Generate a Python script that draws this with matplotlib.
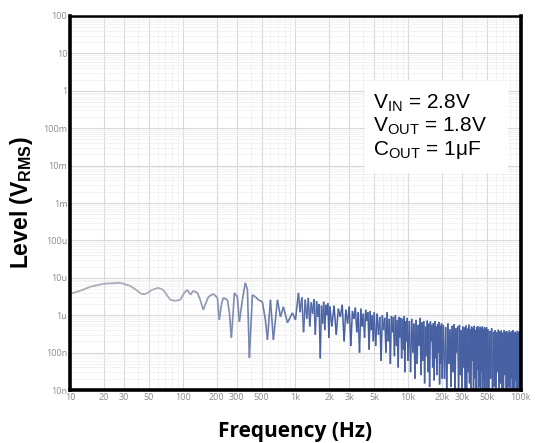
"""Output noise spectrum, VIN=2.8V VOUT=1.8V COUT=1uF"""
import numpy as np
import matplotlib
matplotlib.use('Agg')
import matplotlib.pyplot as plt
from matplotlib.collections import LineCollection
from matplotlib.colors import to_rgb
from matplotlib.patches import Rectangle

plt.rcParams['mathtext.fontset'] = 'custom'
plt.rcParams['mathtext.rm'] = 'Liberation Sans'
plt.rcParams['mathtext.bf'] = 'Liberation Sans:bold'

# low frequency part, Hz / uV
lf_freq = [10, 12.3, 15.1, 19.7, 27.8, 34.1, 38.6, 42.8, 47.4, 53.6,
           60.6, 67.1, 77.4, 85.8, 95, 103, 110, 117, 124, 135,
           143, 152, 162, 169, 187, 203, 211, 220, 229, 249,
           259, 270, 281, 287, 305, 318, 338, 359, 375, 390,
           415, 441, 469, 509, 541, 564, 600, 637, 692, 736,
           782, 849, 940, 1000, 1063]
lf_level = [3.73, 4.49, 5.74, 6.92, 7.35, 6.11, 4.78, 3.73, 3.73, 4.78,
            5.41, 4.78, 2.58, 2.43, 2.58, 3.97, 4.78, 3.51, 4.49, 3.97,
            2.58, 1.39, 2.28, 3.10, 3.73, 2.92, 0.75, 1.90, 2.92, 2.58,
            1.23, 0.25, 1.39, 3.97, 3.10, 0.67, 2.58, 7.35, 4.78, 0.073,
            3.51, 3.10, 2.58, 2.28, 0.75, 0.22, 2.58, 0.22, 2.58, 0.91,
            1.68, 0.63, 1.16, 0.75, 3.97]

# high frequency part, kHz / uV
hf_khz = [1.10, 1.14, 1.18, 1.22, 1.26, 1.30, 1.34, 1.38, 1.42, 1.46, 1.50, 1.54,
          1.58, 1.62, 1.66, 1.70, 1.74, 1.78, 1.82, 1.86, 1.90, 1.94, 1.98, 2.02,
          2.1, 2.2, 2.3, 2.4, 2.5, 2.6, 2.7, 2.8, 2.9, 3.0, 3.1, 3.2, 3.3, 3.4, 3.5,
          3.6, 3.7, 3.8, 3.9, 4.0, 4.1, 4.2, 4.3, 4.4, 4.5, 4.6, 4.7, 4.8, 4.9, 5.0,
          5.15, 5.3, 5.45, 5.6, 5.75, 5.9, 6.05, 6.2, 6.35, 6.5, 6.65, 6.8, 6.95,
          7.1, 7.25, 7.4, 7.55, 7.7, 7.85, 8.0, 8.15, 8.3, 8.45, 8.6, 8.75, 8.9,
          9.05, 9.2, 9.35, 9.5, 9.65, 9.8, 9.95,
          10.25, 10.5, 10.75, 11.0, 11.25, 11.5, 11.75, 12.0, 12.25, 12.5, 12.75,
          13.0, 13.25, 13.5, 13.75, 14.0, 14.25, 14.5, 14.75, 15.0, 15.25, 15.5,
          15.75, 16.0, 16.25, 16.5, 16.75, 17.0, 17.25, 17.5, 17.75, 18.0, 18.25,
          18.5, 18.75, 19.0, 19.25, 19.5, 19.75, 20.0,
          20.5, 21, 21.5, 22, 22.5, 23, 23.5, 24, 24.5, 25, 25.5, 26, 26.5, 27,
          27.5, 28, 28.5, 29, 29.5, 30, 30.5, 31, 31.5, 32, 32.5, 33, 33.5, 34,
          34.5, 35, 35.5, 36, 36.5, 37, 37.5, 38, 38.5, 39, 39.5, 40, 40.5, 41,
          41.5, 42, 42.5, 43, 43.5, 44, 44.5, 45, 45.5, 46, 46.5, 47, 47.5, 48,
          48.5, 49, 49.5, 50,
          51, 52, 53, 54, 55, 56, 57, 58, 59, 60, 61, 62, 63, 64, 65, 66, 67, 68,
          69, 70, 71, 72, 73, 74, 75, 76, 77, 78, 79, 80, 81, 82, 83, 84, 85, 86,
          87, 88, 89, 90, 91, 92, 93, 94, 95, 96, 97, 98, 99, 100]
hf_level = [1.2, 3.0, 0.35, 2.6, 0.8, 2.9, 0.5, 2.2, 1.1, 2.7, 0.3, 2.4,
            0.9, 2.0, 0.07, 1.8, 0.6, 2.3, 0.4, 1.9, 1.0, 2.1, 0.25, 1.7,
            0.5, 1.8, 0.3, 1.5, 0.9, 1.9, 0.2, 1.4, 0.6, 1.7, 0.15, 1.3, 0.8, 1.6, 0.35,
            1.2, 0.1, 1.5, 0.5, 1.1, 0.25, 1.4, 0.7, 1.2, 0.12, 1.3, 0.4, 1.0, 0.2, 1.2,
            0.15, 1.1, 0.3, 0.9, 0.06, 1.0, 0.4, 0.85, 0.1, 1.2, 0.2, 0.8, 0.05,
            0.95, 0.35, 0.9, 0.08, 1.0, 0.15, 0.75, 0.04, 0.9, 0.25, 0.85, 0.07, 0.8,
            0.12, 0.95, 0.03, 0.7, 0.2, 0.85, 0.06,
            0.7, 0.03, 0.8, 0.1, 0.6, 0.02, 0.75, 0.05, 0.55, 0.15, 0.85,
            0.025, 0.65, 0.06, 0.7, 0.015, 0.5, 0.08, 0.72, 0.03, 0.6, 0.012,
            0.68, 0.2, 0.55, 0.04, 0.62, 0.018, 0.7, 0.07, 0.5, 0.025, 0.58,
            0.1, 0.66, 0.014, 0.52, 0.05, 0.6, 0.02,
            0.55, 0.02, 0.48, 0.008, 0.6, 0.05, 0.42, 0.012, 0.52, 0.03, 0.58, 0.006, 0.45, 0.1,
            0.5, 0.009, 0.55, 0.025, 0.4, 0.007, 0.5, 0.04, 0.47, 0.011, 0.53, 0.006, 0.44, 0.03,
            0.56, 0.015, 0.42, 0.008, 0.5, 0.06, 0.46, 0.005, 0.52, 0.02, 0.4, 0.009, 0.48, 0.035,
            0.51, 0.007, 0.43, 0.012, 0.49, 0.005, 0.45, 0.03, 0.5, 0.008, 0.41, 0.018, 0.47, 0.006,
            0.44, 0.04, 0.48, 0.01,
            0.42, 0.008, 0.38, 0.02, 0.45, 0.005, 0.36, 0.012, 0.4, 0.004, 0.35, 0.03, 0.41, 0.007,
            0.37, 0.015, 0.39, 0.005, 0.34, 0.009, 0.4, 0.025, 0.36, 0.006, 0.38, 0.004, 0.33, 0.012,
            0.39, 0.007, 0.35, 0.02, 0.37, 0.005, 0.4, 0.01, 0.34, 0.004, 0.36, 0.018, 0.33, 0.006,
            0.38, 0.008, 0.35, 0.004, 0.37, 0.015, 0.34, 0.006]

xtick_vals = [10, 20, 30, 50, 100, 200, 300, 500, 1e3, 2e3, 3e3, 5e3, 1e4, 2e4, 3e4, 5e4, 1e5]
xtick_labels = ['10', '20', '30', '50', '100', '200', '300', '500', '1k', '2k', '3k', '5k',
                '10k', '20k', '30k', '50k', '100k']
ytick_vals = [1e-8, 1e-7, 1e-6, 1e-5, 1e-4, 1e-3, 1e-2, 1e-1, 1, 10, 100]
ytick_labels = ['10n', '100n', '1u', '10u', '100u', '1m', '10m', '100m', '1', '10', '100']
notes = [r'V$_{\mathrm{IN}}$ = 2.8V', r'V$_{\mathrm{OUT}}$ = 1.8V', r'C$_{\mathrm{OUT}}$ = 1μF']

freq = np.array(lf_freq + [k * 1000 for k in hf_khz])
level = np.array(lf_level + hf_level) * 1e-6

fig = plt.figure(figsize=(5.37, 4.43), dpi=100)
ax = fig.add_axes([0.1304, 0.1196, 0.8396, 0.8443])
ax.set_xscale('log')
ax.set_yscale('log')
ax.set_xlim(10, 1e5)
ax.set_ylim(1e-8, 100)

# trace: grey at low freq, blue at high freq
pts = np.column_stack([freq, level])
segs = np.stack([pts[:-1], pts[1:]], axis=1)
t = np.clip((np.log10(freq[:-1]) - 1.8) / 1.5, 0, 1)[:, None]
c0 = np.array(to_rgb('#a9adb8'))
c1 = np.array(to_rgb('#4660a2'))
cols = c0 * (1 - t) + c1 * t
lws = 1.3 - 0.2 * t[:, 0]
ax.add_collection(LineCollection(segs, colors=cols, linewidths=lws, zorder=3))

# grid
minor_x = [d * m for d in [10, 100, 1e3, 1e4] for m in [4, 6, 7, 8, 9]]
ax.set_xticks(xtick_vals)
ax.set_xticklabels(xtick_labels)
ax.set_xticks(minor_x, minor=True)
ax.set_yticks(ytick_vals)
ax.set_yticklabels(ytick_labels)
ax.set_yticks([d * m for d in ytick_vals[:-1] for m in range(2, 10)], minor=True)
ax.tick_params(which='both', length=0, labelsize=6.5, labelcolor='#8a8a8a', pad=2)
ax.tick_params(axis='y', which='minor', labelleft=False)
ax.tick_params(axis='x', which='minor', labelbottom=False)
for lab in ax.get_xticklabels() + ax.get_yticklabels():
    lab.set_family('Open Sans')
ax.grid(True, which='major', color='#d9d9d9', linewidth=0.8, zorder=0)
ax.grid(True, which='minor', color='#eeeeee', linewidth=0.5, zorder=0)

for side in ['left', 'right', 'bottom']:
    ax.spines[side].set_linewidth(2.6)
ax.spines['top'].set_linewidth(1.8)
for sp in ax.spines.values():
    sp.set_color('black')
    sp.set_zorder(5)

# condition box
ax.add_patch(Rectangle((0.655, 0.58), 0.316, 0.245, transform=ax.transAxes,
                       facecolor='white', edgecolor='none', zorder=4))
for i, s in enumerate(notes):
    ax.text(0.671, 0.754 - i * 0.063, s, transform=ax.transAxes, fontsize=15,
            family='Liberation Sans', va='baseline', ha='left', zorder=6)

ax.set_ylabel(r'Level (V$_{\mathbf{RMS}}$)', fontsize=16.5, fontweight='bold',
              family='Liberation Sans', labelpad=6)
ax.set_xlabel('Frequency (Hz)', fontsize=15, fontweight='bold', family='Open Sans',
              labelpad=14)

plt.savefig('out.png', dpi=100)
plt.close()
